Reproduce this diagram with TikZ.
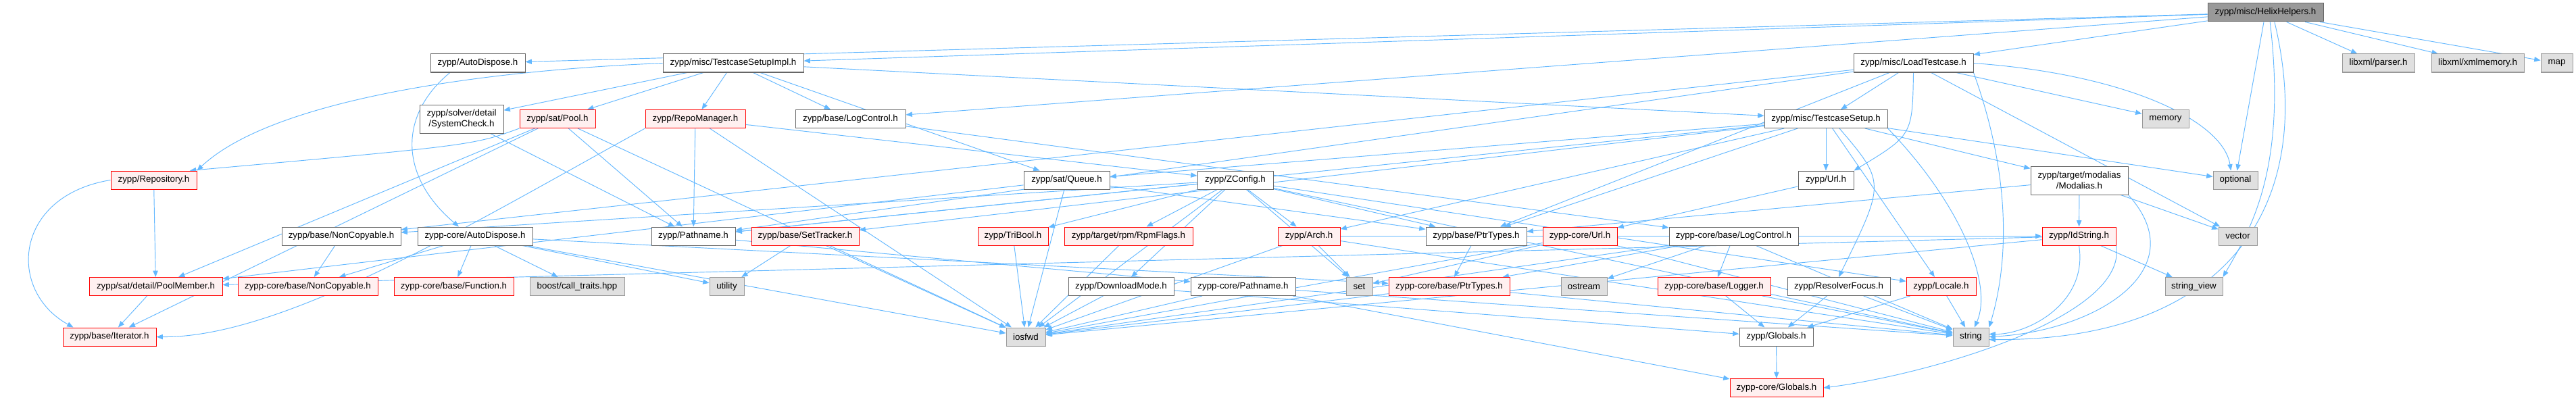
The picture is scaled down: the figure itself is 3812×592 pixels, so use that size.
\documentclass[tikz,border=0pt]{standalone}
\usepackage{fontspec}
\setmainfont{Liberation Sans}
\usetikzlibrary{arrows.meta}
\pgfdeclarelayer{bg}
\pgfsetlayers{bg,main}
\definecolor{edgec}{HTML}{63B8FF}
\definecolor{bordc}{HTML}{666666}
\definecolor{extb}{HTML}{999999}
\definecolor{extf}{HTML}{E0E0E0}
\definecolor{rootf}{HTML}{999999}
\definecolor{truncf}{HTML}{FFF0F0}
\begin{document}
\begin{tikzpicture}[x=0.75pt,y=-0.75pt,
  box/.style={draw=bordc, fill=white, line width=0.75pt, inner sep=0pt,
    minimum height=27*0.75pt, font=\fontsize{10}{12}\selectfont, align=center},
  wd/.style={minimum width=#1*0.75pt},
  tall/.style={minimum height=42*0.75pt},
  trunc/.style={draw=red, fill=truncf},
  ext/.style={draw=extb, fill=extf},
  root/.style={draw=bordc, fill=rootf},
  dep/.style={draw=edgec, line width=0.7pt, -{Triangle[length=7pt,width=5.5pt]}}
]
\useasboundingbox (0,0) rectangle (3812,592);
% row 0
\node[box,root,wd=171] (hh) at (3352.5,18.5) {zypp/misc/HelixHelpers.h};
% row 1
\node[box,wd=140] (ad) at (707,93.5) {zypp/AutoDispose.h};
\node[box,wd=208] (tsi) at (1085,93.5) {zypp/misc/TestcaseSetupImpl.h};
\node[box,wd=177] (lt) at (2831.5,93.5) {zypp/misc/LoadTestcase.h};
\node[box,ext,wd=107] (parser) at (3519.5,93.5) {libxml/parser.h};
\node[box,ext,wd=137] (xmlmem) at (3666.5,93.5) {libxml/xmlmemory.h};
\node[box,ext,wd=47] (map) at (3783.5,93.5) {map};
% row 2
\node[box,tall,wd=124] (syscheck) at (683,176) {zypp/solver/detail\\/SystemCheck.h};
\node[box,trunc,wd=112] (pool) at (825,176) {zypp/sat/Pool.h};
\node[box,trunc,wd=148] (repomgr) at (1029,176) {zypp/RepoManager.h};
\node[box,wd=163] (logc) at (1258.5,176) {zypp/base/LogControl.h};
\node[box,wd=182] (ts) at (2702,176) {zypp/misc/TestcaseSetup.h};
\node[box,ext,wd=69] (memory) at (3204.5,176) {memory};
% row 3
\node[box,trunc,wd=127] (repo) at (227.5,266.5) {zypp/Repository.h};
\node[box,wd=127] (queue) at (1578.5,266.5) {zypp/sat/Queue.h};
\node[box,wd=112] (zconfig) at (1828,266.5) {zypp/ZConfig.h};
\node[box,wd=82] (url) at (2702,266.5) {zypp/Url.h};
\node[box,tall,wd=144] (modalias) at (3077,267) {zypp/target/modalias\\/Modalias.h};
\node[box,ext,wd=66] (optional) at (3308,266.5) {optional};
% row 4
\node[box,wd=176] (noncopy) at (505,349.5) {zypp/base/NonCopyable.h};
\node[box,wd=170] (cad) at (703,349.5) {zypp-core/AutoDispose.h};
\node[box,wd=124] (pathname) at (1026,349.5) {zypp/Pathname.h};
\node[box,trunc,wd=159] (settracker) at (1191.5,349.5) {zypp/base/SetTracker.h};
\node[box,trunc,wd=104] (tribool) at (1499,349.5) {zypp/TriBool.h};
\node[box,trunc,wd=190] (rpmflags) at (1670,349.5) {zypp/target/rpm/RpmFlags.h};
\node[box,trunc,wd=92] (arch) at (1937,349.5) {zypp/Arch.h};
\node[box,wd=149] (ptrtypes) at (2184.5,349.5) {zypp/base/PtrTypes.h};
\node[box,trunc,wd=110] (curl) at (2338,349.5) {zypp-core/Url.h};
\node[box,wd=191] (clogc) at (2565.5,349.5) {zypp-core/base/LogControl.h};
\node[box,trunc,wd=109] (idstring) at (3076.5,349.5) {zypp/IdString.h};
\node[box,ext,wd=57] (vector) at (3311.5,349.5) {vector};
% row 5
\node[box,trunc,wd=197] (poolmember) at (230.5,424) {zypp/sat/detail/PoolMember.h};
\node[box,trunc,wd=207] (cnoncopy) at (455.5,424) {zypp-core/base/NonCopyable.h};
\node[box,trunc,wd=177] (function) at (671.5,424) {zypp-core/base/Function.h};
\node[box,ext,wd=140] (calltraits) at (854,424) {boost/call\_traits.hpp};
\node[box,ext,wd=51] (utility) at (1075.5,424) {utility};
\node[box,wd=156] (dlmode) at (1659,424) {zypp/DownloadMode.h};
\node[box,wd=155] (cpathname) at (1839.5,424) {zypp-core/Pathname.h};
\node[box,ext,wd=39] (set) at (2011.5,424) {set};
\node[box,trunc,wd=179] (cptrtypes) at (2144.5,424) {zypp-core/base/PtrTypes.h};
\node[box,ext,wd=68] (ostream) at (2344,424) {ostream};
\node[box,trunc,wd=167] (logger) at (2536.5,424) {zypp-core/base/Logger.h};
\node[box,wd=152] (rfocus) at (2721,424) {zypp/ResolverFocus.h};
\node[box,trunc,wd=103] (locale) at (2872.5,424) {zypp/Locale.h};
\node[box,ext,wd=85] (sview) at (3246.5,424) {string\_view};
% row 6
\node[box,trunc,wd=138] (iterator) at (162,498.5) {zypp/base/Iterator.h};
\node[box,ext,wd=58] (iosfwd) at (1518,498.5) {iosfwd};
\node[box,wd=109] (globals) at (2628.5,498.5) {zypp/Globals.h};
\node[box,ext,wd=53] (string) at (2916.5,498.5) {string};
% row 7
\node[box,trunc,wd=138] (cglobals) at (2629,574) {zypp-core/Globals.h};

\begin{pgfonlayer}{bg}
\fill[white] (0,0) rectangle (3812,592);
% HelixHelpers
\draw[dep] (hh) -- (ad);
\draw[dep] (hh) -- (tsi);
\draw[dep] (hh) -- (lt);
\draw[dep] (hh) -- (logc);
\draw[dep] (hh) -- (parser);
\draw[dep] (hh) -- (xmlmem);
\draw[dep] (hh) -- (map);
\draw[dep] (hh) -- (optional);
\draw[dep] ([xshift=10pt]hh.south) .. controls (3430,300) and (3300,505) .. ([yshift=-3pt]string.east);
\draw[dep] ([xshift=5pt]hh.south) .. controls (3385,250) and (3330,340) .. (sview.north east);
% AutoDispose
\draw[dep] ([xshift=22pt]ad.south west) .. controls (590,170) and (590,260) .. ([xshift=-18pt]cad.north);
% TestcaseSetupImpl
\draw[dep] (tsi) -- (ts);
\draw[dep] (tsi) -- (syscheck);
\draw[dep] (tsi) -- (pool);
\draw[dep] (tsi) -- (repomgr);
\draw[dep] (tsi) -- (logc);
\draw[dep] (tsi.west) .. controls (700,105) and (400,150) .. (repo.north east);
\draw[dep] (tsi) -- (queue);
% LoadTestcase
\draw[dep] (lt) -- (ts);
\draw[dep] (lt.south) .. controls (2830,200) .. (url.north east);
\draw[dep] (lt) -- (memory);
\draw[dep] (lt.east) .. controls (3150,110) and (3290,180) .. ([xshift=-5pt]optional.north);
\draw[dep] (lt) -- (vector);
\draw[dep] (lt.south east) .. controls (2990,300) and (2960,430) .. (string.north east);
\draw[dep] (lt) -- (pathname);
\draw[dep] (lt) -- (ptrtypes);
\draw[dep] (lt) -- (noncopy);
% TestcaseSetup
\draw[dep] (ts) -- (url);
\draw[dep] (ts) -- (modalias);
\draw[dep] (ts) -- (queue);
\draw[dep] (ts) -- (pathname);
\draw[dep] (ts) -- (ptrtypes);
\draw[dep] (ts) -- (arch);
\draw[dep] (ts) -- (settracker);
\draw[dep] ([xshift=15pt]ts.south) .. controls (2790,270) .. (rfocus.north);
\draw[dep] (ts) -- (locale);
\draw[dep] (ts) -- (optional);
\draw[dep] (ts.south east) .. controls (2900,300) and (2950,420) .. ([xshift=4pt]string.north);
% Pool
\draw[dep] (pool.south west) .. controls (700,215) .. ([xshift=-8pt]repo.north east);
\draw[dep] (pool) -- (poolmember);
\draw[dep] (pool) -- (pathname);
\draw[dep] (pool) -- (iosfwd);
\draw[dep] (pool) -- (iterator);
% RepoManager
\draw[dep] (repomgr) -- (pathname);
\draw[dep] (repomgr) -- (iosfwd);
\draw[dep] (repomgr) -- (zconfig);
\draw[dep] (repomgr.south west) .. controls (700,330) and (420,500) .. (iterator.east);
% others
\draw[dep] (logc) -- (clogc);
\draw[dep] (syscheck) -- (pathname);
\draw[dep] (repo) -- (poolmember);
\draw[dep] (repo.west) .. controls (20,290) and (10,430) .. ([xshift=12pt]iterator.north west);
\draw[dep] (queue) -- (poolmember);
\draw[dep] (queue) -- (ptrtypes);
\draw[dep] (queue) -- (iosfwd);
% ZConfig
\draw[dep] (zconfig) -- (pathname);
\draw[dep] (zconfig) -- (noncopy);
\draw[dep] (zconfig) -- (tribool);
\draw[dep] (zconfig) -- (rpmflags);
\draw[dep] (zconfig) -- (iosfwd);
\draw[dep] (zconfig) -- (dlmode);
\draw[dep] (zconfig) -- (set);
\draw[dep] (zconfig) -- (arch);
\draw[dep] (zconfig) -- (ptrtypes);
\draw[dep] (zconfig) -- (locale);
\draw[dep] (zconfig) -- (string);
% lower levels
\draw[dep] (noncopy) -- (cnoncopy);
\draw[dep] (cad) -- (cnoncopy);
\draw[dep] (cad) -- (function);
\draw[dep] (cad) -- (calltraits);
\draw[dep] (cad) -- (utility);
\draw[dep] (cad) -- (iosfwd);
\draw[dep] (cad) -- (cptrtypes);
\draw[dep] (pathname) -- (cpathname);
\draw[dep] (settracker) -- (utility);
\draw[dep] (settracker) -- (iosfwd);
\draw[dep] (tribool) -- (iosfwd);
\draw[dep] (rpmflags) -- (iosfwd);
\draw[dep] (arch) -- (set);
\draw[dep] (arch) -- (idstring);
\draw[dep] (arch) -- (iosfwd);
\draw[dep] (arch) -- (string);
\draw[dep] (dlmode) -- (iosfwd);
\draw[dep] (dlmode) -- (globals);
\draw[dep] (cpathname) -- (iosfwd);
\draw[dep] (cpathname) -- (string);
\draw[dep] (cpathname) -- (cglobals);
\draw[dep] (ptrtypes) -- (cptrtypes);
\draw[dep] (curl) -- (iosfwd);
\draw[dep] (curl) -- (string);
\draw[dep] (curl) -- (set);
\draw[dep] (clogc) -- (logger);
\draw[dep] (clogc) -- (ostream);
\draw[dep] (clogc) -- (cptrtypes);
\draw[dep] (clogc) -- (iosfwd);
\draw[dep] (clogc) -- (string);
\draw[dep] (cptrtypes) -- (iosfwd);
\draw[dep] (cptrtypes) -- (string);
\draw[dep] (logger) -- (globals);
\draw[dep] (logger) -- (string);
\draw[dep] (rfocus) -- (globals);
\draw[dep] (rfocus) -- (string);
\draw[dep] (locale) -- (globals);
\draw[dep] (locale) -- (string);
\draw[dep] (idstring.south) .. controls (3090,450) and (3000,495) .. ([yshift=3pt]string.east);
\draw[dep] (idstring) -- (sview);
\draw[dep] (idstring) -- (iosfwd);
\draw[dep] (idstring) -- (poolmember);
\draw[dep] (idstring.south east) .. controls (3150,470) and (2850,555) .. (cglobals.east);
\draw[dep] (modalias) -- (idstring);
\draw[dep] (modalias) -- (vector);
\draw[dep] (modalias.south east) .. controls (3250,400) and (3100,490) .. (string.east);
\draw[dep] (modalias) -- (ptrtypes);
\draw[dep] (globals) -- (cglobals);
\draw[dep] (url) -- (curl);
\draw[dep] (poolmember) -- (iterator);
\end{pgfonlayer}
\end{tikzpicture}
\end{document}
